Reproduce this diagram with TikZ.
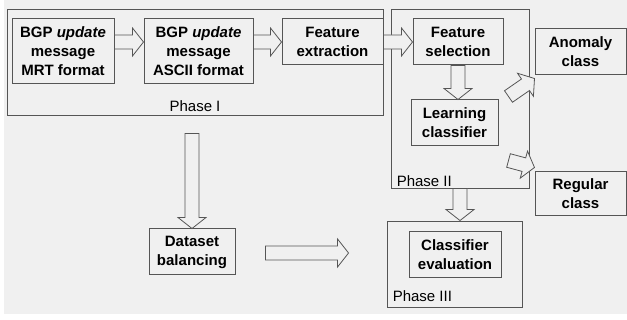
\documentclass[tikz,border=0pt]{standalone}
\usepackage{fontspec}
\setmainfont{Liberation Sans}
\usetikzlibrary{calc}

\definecolor{bggray}{HTML}{F0F0F0}
\definecolor{linegray}{HTML}{555555}

\tikzset{
  stepbox/.style={draw=linegray, line width=1pt, inner sep=0pt, align=center,
    font=\fontsize{15}{19}\selectfont\bfseries},
  phasebox/.style={draw=linegray, line width=0.9pt, inner sep=0pt},
  phaselabel/.style={font=\fontsize{15}{19}\selectfont, inner sep=1pt},
  fatline/.style={draw=linegray, line width=0.8pt, fill=bggray, line join=miter}
}

% hollow block arrow from #1 to #2
\newcommand{\fatarrow}[2]{%
  \coordinate (fa-n) at ($(#2)!11pt!(#1)$);
  \draw[fatline] ($(#1)!7pt!90:(#2)$) -- ($(fa-n)!7pt!-90:(#1)$)
    -- ($(fa-n)!14pt!-90:(#1)$) -- (#2) -- ($(fa-n)!14pt!90:(#1)$)
    -- ($(fa-n)!7pt!90:(#1)$) -- ($(#1)!7pt!-90:(#2)$) -- cycle;}

\begin{document}
\begin{tikzpicture}[x=1pt, y=-1pt]
  \useasboundingbox (0,0) rectangle (627,320);
  \fill[bggray] (4,0) rectangle (627,314);

  % phases
  \node[phasebox, minimum width=376pt, minimum height=106pt] (phaseone) at (195,62) {};
  \node[phasebox, minimum width=138pt, minimum height=179pt] (phasetwo) at (460,98.5) {};
  \node[phasebox, minimum width=135pt, minimum height=86pt] (phasethree) at (454.5,264) {};
  \node[phaselabel, anchor=south] at ($(phaseone.south)+(0,-3)$) {Phase I};
  \node[phaselabel, anchor=south west] at ($(phasetwo.south west)+(5,-1)$) {Phase II};
  \node[phaselabel, anchor=south west] at ($(phasethree.south west)+(5,-5)$) {Phase III};

  % steps
  \node[stepbox, minimum width=102pt, minimum height=65pt] (mrt) at (63,51.5)
    {BGP \textit{update}\\message\\MRT format};
  \node[stepbox, minimum width=109pt, minimum height=65pt] (ascii) at (198.5,51.5)
    {BGP \textit{update}\\message\\ASCII format};
  \node[stepbox, minimum width=101pt, minimum height=46pt] (extract) at (332.5,42)
    {Feature\\extraction};
  \node[stepbox, minimum width=90pt, minimum height=46pt] (select) at (458,42)
    {Feature\\selection};
  \node[stepbox, minimum width=87pt, minimum height=46pt] (learn) at (454.5,123)
    {Learning\\classifier};
  \node[stepbox, minimum width=91pt, minimum height=46pt] (anomaly) at (580.5,52)
    {Anomaly\\class};
  \node[stepbox, minimum width=91pt, minimum height=44pt] (regular) at (580.5,194)
    {Regular\\class};
  \node[stepbox, minimum width=86pt, minimum height=46pt] (balance) at (192,252)
    {Dataset\\balancing};
  \node[stepbox, minimum width=92pt, minimum height=46pt] (evaluate) at (455,255)
    {Classifier\\evaluation};

  % arrows
  \fatarrow{mrt.east |- extract.center}{ascii.west |- extract.center}
  \fatarrow{ascii.east |- extract.center}{extract.west}
  \fatarrow{extract.east}{select.west}
  \fatarrow{select.south}{select.south |- learn.north}
  \fatarrow{$(learn.north east)+(10,-3)$}{$(anomaly.south west)+(0,3)$}
  \fatarrow{$(learn.south east)+(10,14)$}{$(regular.north west)+(0,-4)$}
  \fatarrow{phasetwo.south}{phasetwo.south |- phasethree.north}
  \fatarrow{$(phaseone.south -| balance.north)+(0,18)$}{balance.north}
  \fatarrow{$(balance.east)+(30,1)$}{$(phasethree.west |- balance.east)+(-38,1)$}
\end{tikzpicture}
\end{document}
